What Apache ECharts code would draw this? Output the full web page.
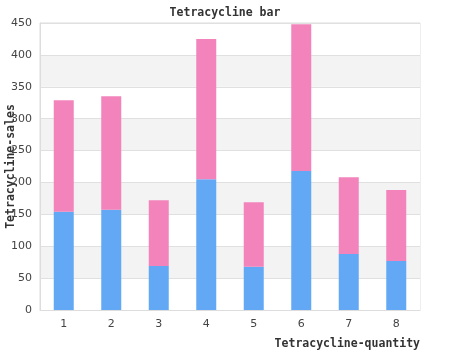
<!DOCTYPE html>
<html>
<head>
<meta charset="utf-8">
<script src="https://cdn.jsdelivr.net/npm/echarts@6/dist/echarts.min.js"></script>
<style>
  html, body { margin: 0; padding: 0; background: #fff; }
  #chart { width: 450px; height: 350px; }
</style>
</head>
<body>
<div id="chart"></div>
<script>
// Categories along the x axis
const categories = ['1', '2', '3', '4', '5', '6', '7', '8'];
// Lower (blue) stacked segment
const baseValues = [154, 157, 69, 205, 68, 218, 88, 77];
// Upper (pink) stacked segment
const topValues = [175, 178, 103, 220, 101, 230, 120, 111];

const monoFont = '"DejaVu Sans Mono", monospace';
const sansFont = '"DejaVu Sans", sans-serif';

const chart = echarts.init(document.getElementById('chart'), null, { renderer: 'canvas' });

chart.setOption({
  animation: false,
  backgroundColor: '#fff',
  title: {
    text: 'Tetracycline bar',
    left: 'center',
    top: 2,
    textStyle: { fontFamily: monoFont, fontSize: 11.5, fontWeight: 'bold', color: '#333' }
  },
  grid: {
    left: 40, right: 30, top: 23, bottom: 40,
    containLabel: false,
    outerBoundsMode: 'none',
    show: true, borderColor: '#ddd', borderWidth: 1, backgroundColor: 'transparent'
  },
  xAxis: {
    type: 'category',
    data: categories,
    name: 'Tetracycline-quantity',
    nameLocation: 'end',
    nameGap: 0,
    nameMoveOverlap: false,
    nameTextStyle: {
      fontFamily: monoFont, fontSize: 11.5, fontWeight: 'bold', color: '#333',
      align: 'right', verticalAlign: 'top', padding: [28, 0, 0, 0]
    },
    axisLine: { show: true, lineStyle: { color: '#ddd' } },
    axisTick: { show: false },
    axisLabel: { fontFamily: sansFont, fontSize: 11, color: '#444', margin: 9 }
  },
  yAxis: {
    type: 'value',
    min: 0, max: 450, interval: 50,
    name: 'Tetracycline-sales',
    nameLocation: 'middle',
    nameGap: 23,
    nameMoveOverlap: false,
    nameTextStyle: { fontFamily: monoFont, fontSize: 11.5, fontWeight: 'bold', color: '#333' },
    axisLine: { show: true, lineStyle: { color: '#ddd' } },
    axisTick: { show: false },
    axisLabel: { fontFamily: sansFont, fontSize: 11, color: '#444', margin: 8 },
    splitLine: { show: true, lineStyle: { color: '#e0e0e0' } },
    splitArea: { show: true, areaStyle: { color: ['#ffffff', '#f3f3f3'] } }
  },
  series: [
    {
      name: 'base', type: 'bar', stack: 'total', data: baseValues,
      barWidth: 20, itemStyle: { color: '#62a8f4' }
    },
    {
      name: 'top', type: 'bar', stack: 'total', data: topValues,
      barWidth: 20, itemStyle: { color: '#f283bb' }
    }
  ]
});
</script>
</body>
</html>
